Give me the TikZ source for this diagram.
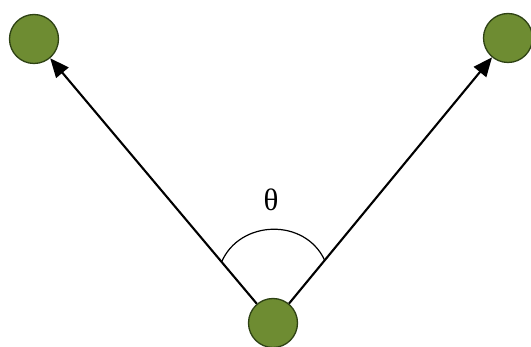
\documentclass[tikz,border=0pt]{standalone}
\usepackage{fontspec}
\setmainfont{Liberation Serif}
\usepackage{tikz}
\usetikzlibrary{arrows.meta,calc}
\definecolor{olive}{HTML}{6E8C32}
\definecolor{olivedark}{HTML}{2E4214}

\begin{document}
\begin{tikzpicture}[x=1pt,y=-1pt,
    ball/.style={circle,draw=olivedark,line width=1.3pt,fill=olive,minimum size=49pt,inner sep=0pt},
    vec/.style={line width=2.1pt,-{Triangle[length=19pt,width=16pt]}}]
      \useasboundingbox (0,0) rectangle (531,347);
      \node[ball] (tl) at (34,39) {};
      \node[ball] (tr) at (508,38) {};
      \node[ball] (bot) at (273,323) {};
      \draw[vec] (bot) -- (tl);
      \draw[vec] (bot) -- (tr);
      \coordinate (al) at ($(bot)!0.215!(tl)$);
      \coordinate (ar) at ($(bot)!0.22!(tr)$);
      \draw[line width=1.2pt] (al) .. controls +(18,-42) and +(-20,-43) .. (ar);
      \node[font=\fontsize{31}{31}\selectfont] (theta) at (271,200) {θ};
    \end{tikzpicture}
\end{document}
